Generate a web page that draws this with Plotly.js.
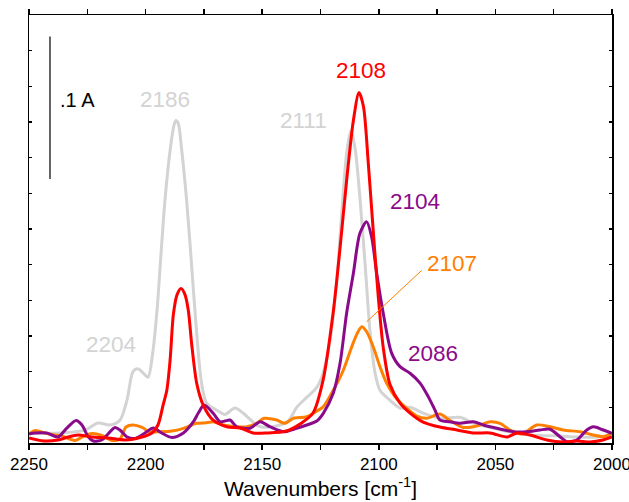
<!DOCTYPE html>
<html>
<head>
<meta charset="utf-8">
<script src="https://cdn.plot.ly/plotly-3.0.1.min.js"></script>
<style>html,body{margin:0;padding:0;background:#fff;}#chart{width:629px;height:502px;}</style>
</head>
<body>
<div id="chart"></div>
<script>
// Wavenumbers (cm^-1) and absorbance values
const grayX = [2250, 2236.7, 2226, 2220.4, 2215.3, 2211, 2208, 2205.4, 2203.3, 2201, 2199, 2196.8, 2195, 2193.8, 2191.7, 2189.5, 2187.8, 2187, 2186, 2184.5, 2182.4, 2180.2, 2178.1, 2176, 2173.8, 2169.5, 2166, 2161.7, 2158.2, 2152.4, 2150.2, 2146.7, 2142.4, 2138.8, 2135.2, 2130.9, 2126.6, 2123.9, 2120.9, 2118, 2115.9, 2113.8, 2112, 2110.2, 2108.1, 2105.9, 2103.8, 2101.6, 2099.5, 2095.2, 2090.9, 2086.6, 2081, 2073.8, 2065.2, 2059.6, 2052.3, 2043.7, 2035.2, 2023.6, 2015, 2006.4, 2000];
const grayY = [0.007, 0.007, 0.009, 0.014, 0.0126, 0.016, 0.030, 0.050, 0.052, 0.049, 0.046, 0.065, 0.095, 0.123, 0.170, 0.205, 0.223, 0.226, 0.224, 0.205, 0.170, 0.123, 0.077, 0.042, 0.028, 0.023, 0.020, 0.0245, 0.021, 0.0126, 0.0112, 0.0112, 0.0126, 0.0154, 0.025, 0.032, 0.039, 0.049, 0.072, 0.114, 0.161, 0.203, 0.219, 0.207, 0.172, 0.126, 0.079, 0.049, 0.037, 0.030, 0.0245, 0.025, 0.021, 0.0175, 0.018, 0.014, 0.011, 0.0077, 0.0056, 0.005, 0.0042, 0.0042, 0.0056];

const redX = [2250, 2244.6, 2237.6, 2233.3, 2229, 2223, 2216.1, 2208.8, 2201.5, 2197.3, 2194.7, 2192.5, 2190.9, 2189.5, 2188.1, 2186.5, 2184.8, 2183.1, 2181.7, 2180.2, 2178.1, 2175.3, 2171, 2165.2, 2159.5, 2153.8, 2148.1, 2139.5, 2133.8, 2128.2, 2123.9, 2119.6, 2116.6, 2113.8, 2110.9, 2108.5, 2106.6, 2104.5, 2102.4, 2100.2, 2098.1, 2095.2, 2090.9, 2086.6, 2081, 2073.8, 2066.5, 2059.6, 2052.3, 2045, 2040.7, 2035.2, 2027.9, 2021, 2015, 2009.4, 2003.9, 2000];
const redY = [0.0035, 0.0016, 0.0021, 0.0042, 0.0056, 0.0042, 0.0035, 0.0021, 0.0042, 0.007, 0.0126, 0.0266, 0.037, 0.058, 0.090, 0.104, 0.1083, 0.104, 0.093, 0.0687, 0.042, 0.0266, 0.016, 0.0114, 0.0105, 0.007, 0.007, 0.0084, 0.0133, 0.021, 0.044, 0.091, 0.137, 0.184, 0.226, 0.2456, 0.236, 0.196, 0.149, 0.102, 0.067, 0.041, 0.028, 0.021, 0.0147, 0.0112, 0.0091, 0.007, 0.007, 0.0042, 0.007, 0.0056, 0.0021, 0.0007, 0.0014, 0.0007, 0.0021, 0.0042];

const purpleX = [2250, 2247.4, 2242.4, 2237.6, 2233.8, 2229.8, 2227.3, 2224.6, 2222.4, 2218.8, 2216.1, 2213.1, 2211, 2208.1, 2204.5, 2200.3, 2196.7, 2193.1, 2188.8, 2183.8, 2179.5, 2177.4, 2174.9, 2171, 2168.1, 2166, 2163.8, 2160.9, 2155.2, 2150.9, 2146.7, 2140.9, 2135.2, 2130.9, 2126.6, 2123.8, 2119.5, 2116.6, 2113.8, 2110.9, 2108.1, 2105.2, 2103.1, 2100.9, 2098.1, 2094.5, 2090.9, 2086.6, 2082.3, 2078.8, 2075.9, 2073.8, 2069.5, 2065.2, 2059.5, 2055.2, 2049.4, 2042.3, 2036.6, 2030.9, 2026.6, 2022.3, 2019.4, 2015.1, 2010.8, 2008, 2003.7, 2000];
const purpleY = [0.0063, 0.007, 0.007, 0.0042, 0.0105, 0.0158, 0.0126, 0.0044, 0.0014, 0.0021, 0.0063, 0.0109, 0.0091, 0.0044, 0.0032, 0.007, 0.0105, 0.007, 0.0039, 0.007, 0.0149, 0.021, 0.0266, 0.0208, 0.0149, 0.0154, 0.0161, 0.0114, 0.0103, 0.0149, 0.0114, 0.0079, 0.0103, 0.0126, 0.0154, 0.0208, 0.035, 0.056, 0.091, 0.119, 0.147, 0.155, 0.1446, 0.119, 0.091, 0.063, 0.0535, 0.0489, 0.042, 0.0325, 0.023, 0.0161, 0.0149, 0.0138, 0.0149, 0.0126, 0.0103, 0.0079, 0.0079, 0.0091, 0.0096, 0.0044, 0.0009, 0.0021, 0.0091, 0.0114, 0.0091, 0.0068];

const orangeX = [2250, 2247.4, 2243.1, 2238.9, 2235.8, 2230.3, 2227.3, 2223, 2218.7, 2214.4, 2211, 2208.4, 2205.4, 2201.5, 2198.5, 2193.8, 2188.7, 2183.8, 2178.1, 2173.8, 2171, 2166.7, 2160.9, 2156.6, 2152.4, 2149.2, 2143.8, 2140.2, 2136.7, 2130.9, 2126.6, 2123.8, 2119.5, 2115.2, 2111.6, 2109.2, 2107.3, 2105.2, 2102.4, 2099.5, 2096.6, 2093.1, 2088.8, 2083.7, 2079.5, 2073.8, 2069.5, 2063.8, 2058, 2052.3, 2048, 2043.7, 2038.6, 2032.3, 2026.6, 2020.9, 2013.7, 2008, 2003.7, 2000];
const orangeY = [0.0063, 0.0088, 0.007, 0.0056, 0.0049, 0.0018, 0.0042, 0.0067, 0.0053, 0.0018, 0.0028, 0.0112, 0.0126, 0.0109, 0.0079, 0.0079, 0.0084, 0.0103, 0.0138, 0.0142, 0.0149, 0.0126, 0.0114, 0.0114, 0.0138, 0.0173, 0.0161, 0.0138, 0.0173, 0.0184, 0.0224, 0.0254, 0.037, 0.051, 0.0675, 0.077, 0.0815, 0.078, 0.0675, 0.0535, 0.0418, 0.0325, 0.0254, 0.0189, 0.0173, 0.0203, 0.0158, 0.0109, 0.0119, 0.0149, 0.0138, 0.0091, 0.0063, 0.0126, 0.0114, 0.0091, 0.0079, 0.0056, 0.0044, 0.007];

const tickVals = [2250, 2200, 2150, 2100, 2050, 2000];
const tickText = ['2250', '2200', '2150', '2100', '2050', '2000'];

const GRAY = '#d3d3d3', RED = '#ff0000', PURPLE = '#8b0a8b', ORANGE = '#ff8000';
const FONT = 'Liberation Sans, Arial, sans-serif';

function tr(x, y, color, w) {
  return {x: x, y: y, type: 'scatter', mode: 'lines', hoverinfo: 'skip',
          line: {color: color, width: w, shape: 'spline', smoothing: 0.8}};
}
const data = [
  tr(grayX, grayY, GRAY, 3),
  tr(orangeX, orangeY, ORANGE, 3),
  tr(purpleX, purpleY, PURPLE, 3),
  tr(redX, redY, RED, 3)
];

function lab(text, x, y, color, size, anchor) {
  return {text: text, x: x, y: y, xref: 'x', yref: 'y', showarrow: false,
          xanchor: anchor || 'center', yanchor: 'middle',
          font: {family: FONT, size: size, color: color}};
}

const layout = {
  width: 629, height: 502,
  margin: {l: 29, r: 17, t: 15, b: 59},
  paper_bgcolor: '#fff', plot_bgcolor: '#fff',
  showlegend: false,
  xaxis: {
    range: [2250.0001, 1999.9999], tickmode: 'array', tickvals: tickVals, ticktext: tickText,
    ticklabeloverflow: 'allow',
    ticks: 'outside', ticklen: 5, tickwidth: 1.5, tickcolor: '#000',
    minor: {tickmode: 'linear', tick0: 2000, dtick: 25, ticks: 'outside', ticklen: 5, tickwidth: 1.5, tickcolor: '#000'},
    showline: true, linewidth: 1.5, linecolor: '#000', mirror: 'ticks',
    showgrid: false, zeroline: false,
    tickfont: {family: FONT, size: 17, color: '#000'},
    title: {text: 'Wavenumbers [cm<sup>-1</sup>]', font: {family: FONT, size: 21, color: '#000'}, standoff: 6}
  },
  yaxis: {
    range: [0, 0.3], dtick: 0.025,
    ticks: 'inside', ticklen: 3, tickwidth: 1.5, tickcolor: '#000',
    showticklabels: false,
    showline: true, linewidth: 1.5, linecolor: '#000', mirror: 'ticks',
    showgrid: false, zeroline: false
  },
  shapes: [
    {type: 'line', xref: 'x', yref: 'y', x0: 2241, x1: 2241, y0: 0.185, y1: 0.285, line: {color: '#333', width: 1.5}},
    {type: 'line', xref: 'x', yref: 'y', x0: 2105.2, x1: 2081.6, y0: 0.085, y1: 0.121, line: {color: ORANGE, width: 1}}
  ],
  annotations: [
    lab('.1 A', 2237.5, 0.2404, '#000', 20, 'left'),
    lab('2186', 2191.7, 0.241, GRAY, 22.5),
    lab('2204', 2214.8, 0.0692, GRAY, 22.5),
    lab('2111', 2132.3, 0.2264, GRAY, 22.5),
    lab('2108', 2107.8, 0.2608, RED, 22.5),
    lab('2104', 2084.5, 0.169, PURPLE, 22.5),
    lab('2107', 2068.7, 0.1255, ORANGE, 22.5),
    lab('2086', 2076.6, 0.0629, PURPLE, 22.5)
  ]
};

Plotly.newPlot('chart', data, layout, {staticPlot: true, displayModeBar: false});
</script>
</body>
</html>
